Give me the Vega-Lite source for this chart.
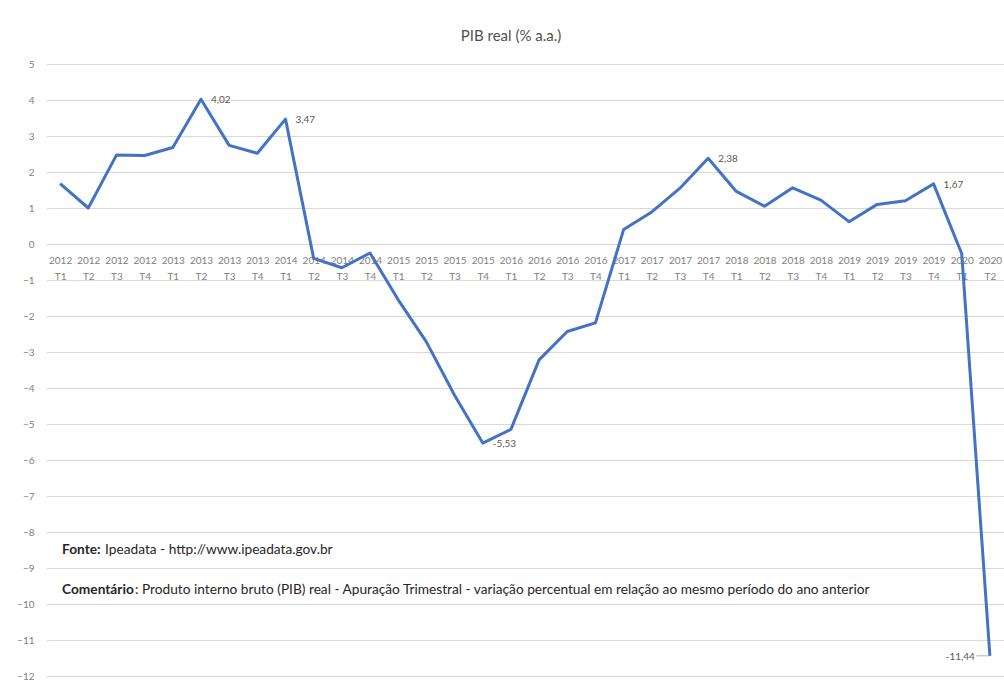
{
  "$schema": "https://vega.github.io/schema/vega-lite/v6.json",
  "width": 958,
  "height": 612,
  "autosize": {"type": "none"},
  "padding": {"left": 46, "top": 64, "right": 0, "bottom": 10},
  "background": "white",
  "title": {"text": "PIB real (% a.a.)", "font": "Lato", "fontSize": 15, "fontWeight": "normal", "color": "#505050", "anchor": "middle", "dx": -14, "offset": 15},
  "config": {"view": {"stroke": null}, "font": "Lato"},
  "datasets": {
    "pib": [
      {"q": "2012 T1", "v": 1.68},
      {"q": "2012 T2", "v": 1.0},
      {"q": "2012 T3", "v": 2.47},
      {"q": "2012 T4", "v": 2.46},
      {"q": "2013 T1", "v": 2.68},
      {"q": "2013 T2", "v": 4.02, "lab": "4,02"},
      {"q": "2013 T3", "v": 2.74},
      {"q": "2013 T4", "v": 2.52},
      {"q": "2014 T1", "v": 3.47, "lab": "3,47"},
      {"q": "2014 T2", "v": -0.4},
      {"q": "2014 T3", "v": -0.66},
      {"q": "2014 T4", "v": -0.25},
      {"q": "2015 T1", "v": -1.55},
      {"q": "2015 T2", "v": -2.72},
      {"q": "2015 T3", "v": -4.2},
      {"q": "2015 T4", "v": -5.53, "lab": "-5,53"},
      {"q": "2016 T1", "v": -5.15},
      {"q": "2016 T2", "v": -3.22},
      {"q": "2016 T3", "v": -2.43},
      {"q": "2016 T4", "v": -2.19},
      {"q": "2017 T1", "v": 0.4},
      {"q": "2017 T2", "v": 0.89},
      {"q": "2017 T3", "v": 1.55},
      {"q": "2017 T4", "v": 2.38, "lab": "2,38"},
      {"q": "2018 T1", "v": 1.46},
      {"q": "2018 T2", "v": 1.05},
      {"q": "2018 T3", "v": 1.56},
      {"q": "2018 T4", "v": 1.22},
      {"q": "2019 T1", "v": 0.62},
      {"q": "2019 T2", "v": 1.1},
      {"q": "2019 T3", "v": 1.2},
      {"q": "2019 T4", "v": 1.67, "lab": "1,67"},
      {"q": "2020 T1", "v": -0.27},
      {"q": "2020 T2", "v": -11.44, "lab": "-11,44"}
    ],
    "notes": [
      {"q": "2012 T1", "v": -8.5, "b": "Fonte:", "t": "Ipeadata - http://www.ipeadata.gov.br"},
      {"q": "2012 T1", "v": -9.6, "b": "Comentário", "t": ": Produto interno bruto (PIB) real - Apuração Trimestral - variação percentual em relação ao mesmo período do ano anterior"}
    ]
  },
  "data": {"name": "pib"},
  "encoding": {
    "x": {
      "field": "q", "type": "ordinal", "sort": null,
      "scale": {"type": "point", "padding": 0.5},
      "axis": {
        "orient": "bottom", "offset": -432, "domain": false, "ticks": false, "grid": false,
        "labelExpr": "split(datum.value, ' ')", "labelAngle": 0, "labelFont": "Lato",
        "labelFontSize": 10, "labelColor": "#808080", "labelPadding": 11, "labelLineHeight": 16,
        "labelOverlap": false, "title": null
      }
    },
    "y": {
      "field": "v", "type": "quantitative",
      "scale": {"domain": [-12, 5], "nice": false, "zero": false},
      "axis": {
        "values": [-12, -11, -10, -9, -8, -7, -6, -5, -4, -3, -2, -1, 0, 1, 2, 3, 4, 5],
        "grid": true, "gridColor": "#d9d9d9", "gridWidth": 1, "domain": false, "ticks": false,
        "labelFont": "Lato", "labelFontSize": 10, "labelColor": "#808080", "labelPadding": 12, "title": null
      }
    }
  },
  "layer": [
    {"mark": {"type": "line", "color": "#4472C4", "strokeWidth": 3, "strokeJoin": "round"}},
    {
      "transform": [{"filter": "isValid(datum.lab) && datum.q != '2020 T2'"}],
      "mark": {"type": "text", "align": "left", "baseline": "middle", "dx": 10, "dy": 1, "fontSize": 10, "color": "#595959", "font": "Lato"},
      "encoding": {"text": {"field": "lab"}}
    },
    {
      "transform": [{"filter": "datum.q == '2020 T2'"}],
      "mark": {"type": "text", "align": "right", "baseline": "middle", "dx": -15, "dy": 1, "fontSize": 10, "color": "#595959", "font": "Lato"},
      "encoding": {"text": {"field": "lab"}}
    },
    {
      "transform": [{"filter": "datum.q == '2020 T2'"}],
      "mark": {"type": "tick", "orient": "horizontal", "size": 13, "thickness": 1, "xOffset": -7, "color": "#8c8c8c"}
    },
    {
      "data": {"name": "notes"},
      "mark": {"type": "text", "align": "left", "baseline": "middle", "dx": 2, "fontSize": 13.7, "fontWeight": "bold", "color": "#262626", "font": "Lato"},
      "encoding": {"text": {"field": "b"}}
    },
    {
      "data": {"name": "notes"},
      "transform": [{"filter": "datum.b == 'Fonte:'"}],
      "mark": {"type": "text", "align": "left", "baseline": "middle", "dx": 45, "fontSize": 13.7, "color": "#262626", "font": "Lato"},
      "encoding": {"text": {"field": "t"}}
    },
    {
      "data": {"name": "notes"},
      "transform": [{"filter": "datum.b == 'Comentário'"}],
      "mark": {"type": "text", "align": "left", "baseline": "middle", "dx": 75, "fontSize": 13.7, "color": "#262626", "font": "Lato"},
      "encoding": {"text": {"field": "t"}}
    }
  ]
}
